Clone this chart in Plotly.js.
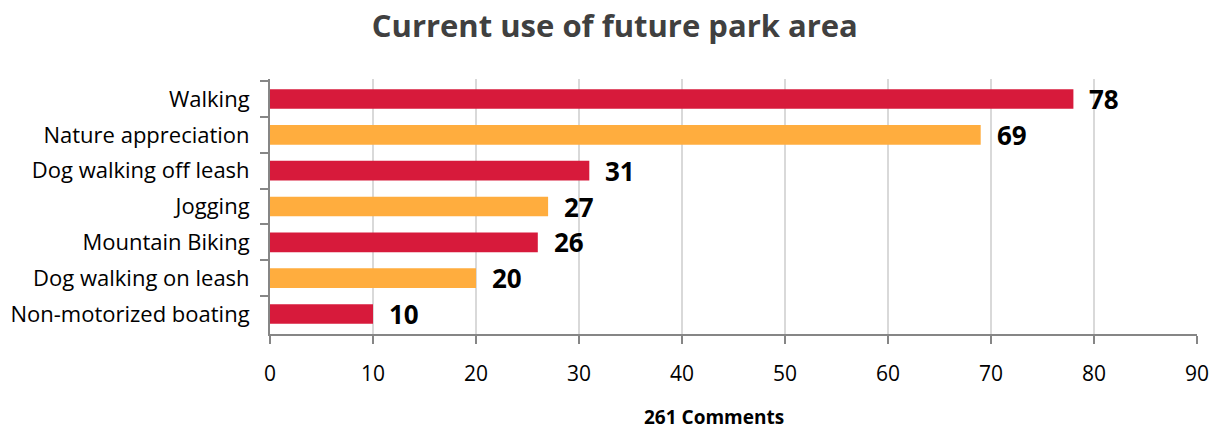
<!DOCTYPE html>
<html>
<head>
<meta charset="utf-8">
<script src="https://cdn.plot.ly/plotly-3.0.1.min.js"></script>
<style>html,body{margin:0;padding:0;background:#fff;}#chart{width:1215px;height:429px;}</style>
</head>
<body>
<div id="chart"></div>
<script>
const categories = ["Walking", "Nature appreciation", "Dog walking off leash", "Jogging", "Mountain Biking", "Dog walking on leash", "Non-motorized boating"];
const values = [78, 69, 31, 27, 26, 20, 10];
const barColors = ["#D71A3B", "#FFAD3E", "#D71A3B", "#FFAD3E", "#D71A3B", "#FFAD3E", "#D71A3B"];
const xTicks = [0, 10, 20, 30, 40, 50, 60, 70, 80, 90];

const font = "Open Sans, Liberation Sans, sans-serif";

const trace = {
  type: "bar",
  orientation: "h",
  y: categories,
  x: values,
  marker: {color: barColors},
  width: 0.55,
  hoverinfo: "none"
};

const annotations = values.map((v, i) => ({
  x: v, y: categories[i], xref: "x", yref: "y",
  text: "<b>" + String(v) + "</b>", showarrow: false, xanchor: "left", yanchor: "middle",
  xshift: 14, yshift: 0,
  font: {family: font, size: 26, color: "#000"}
}));

annotations.push({
  x: 0.479, y: -0.327, xref: "paper", yref: "paper",
  text: "<b>261 Comments</b>", showarrow: false, xanchor: "center", yanchor: "middle",
  font: {family: font, size: 19, color: "#000"}
});

const layout = {
  width: 1215, height: 429,
  margin: {l: 270, r: 18, t: 79, b: 95},
  paper_bgcolor: "#fff", plot_bgcolor: "#fff",
  showlegend: false,
  title: {
    text: "<b>Current use of future park area</b>",
    x: 0.506, xanchor: "center", y: 0.94, yanchor: "middle",
    font: {family: font, size: 31, color: "#404040"}
  },
  xaxis: {
    range: [0, 90], tickvals: xTicks, ticktext: xTicks.map(String),
    showgrid: true, gridcolor: "#D9D9D9", gridwidth: 1.5,
    showline: true, linecolor: "#868686", linewidth: 2,
    ticks: "outside", ticklen: 8, tickcolor: "#868686", tickwidth: 2,
    tickfont: {family: font, size: 21, color: "#000"},
    ticklabelstandoff: 12,
    zeroline: false, fixedrange: true
  },
  yaxis: {
    autorange: "reversed",
    showgrid: false, zeroline: false,
    showline: true, linecolor: "#868686", linewidth: 2,
    ticks: "outside", tickson: "boundaries", ticklen: 8, tickcolor: "#868686", tickwidth: 2,
    tickfont: {family: font, size: 22, color: "#000"},
    ticklabelstandoff: 14, fixedrange: true
  },
  annotations: annotations
};

Plotly.newPlot("chart", [trace], layout, {displayModeBar: false, staticPlot: true});
</script>
</body>
</html>
